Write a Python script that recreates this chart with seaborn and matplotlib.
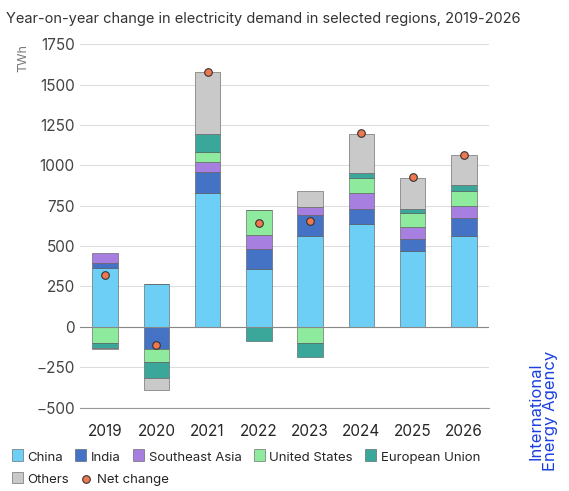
import numpy as np
import matplotlib
matplotlib.use("Agg")
import matplotlib.pyplot as plt
import seaborn as sns

years = ["2019","2020","2021","2022","2023","2024","2025","2026"]
china = [365, 265, 830, 360, 565, 635, 470, 560]
india = [30, -135, 130, 120, 125, 95, 75, 115]
sea = [60, 0, 60, 90, 50, 100, 70, 70]
us = [-100, -80, 60, 155, -100, 90, 90, 95]
eu = [-30, -100, 115, -90, -90, 35, 25, 35]
others = [-10, -75, 385, 0, 100, 240, 190, 190]
net = [320, -115, 1580, 640, 655, 1200, 925, 1065]

series = [("China", china, "#6dcff6"), ("India", india, "#4472c4"),
          ("Southeast Asia", sea, "#a77fe0"), ("United States", us, "#8eea9c"),
          ("European Union", eu, "#3aa79a"), ("Others", others, "#c9c9c9")]

sns.set_style("white")
plt.rcParams['font.family'] = ['Inter', 'DejaVu Sans']
fig, ax = plt.subplots(figsize=(5.69, 4.91), dpi=100)
fig.subplots_adjust(left=0.14, right=0.86, top=0.91, bottom=0.17)
x = np.arange(len(years))
pos = np.zeros(len(years)); neg = np.zeros(len(years))
for name, vals, col in series:
    v = np.array(vals, float)
    b = np.where(v >= 0, pos, neg)
    ax.bar(x, v, bottom=b, width=0.5, color=col, edgecolor="#555555", linewidth=0.4, label=name)
    pos += np.where(v >= 0, v, 0); neg += np.where(v < 0, v, 0)
sns.scatterplot(x=x, y=net, ax=ax, color="#f07850", edgecolor="#333333", s=30, linewidth=0.8, zorder=5, label="Net change")
h, l = ax.get_legend_handles_labels()
if ax.get_legend() is not None:
    ax.get_legend().remove()
ax.set_ylim(-500, 1750)
ax.set_yticks(range(-500, 1751, 250))
ax.set_xticks(x); ax.set_xticklabels(years)
ax.set_xlim(-0.5, 7.5)
ax.grid(axis="y", color="#dddddd", linewidth=0.8)
ax.axhline(0, color="#888888", linewidth=0.8)
for s in ["top", "right", "left"]:
    ax.spines[s].set_visible(False)
ax.spines["bottom"].set_color("#999999")
ax.tick_params(axis="x", length=8, color="#999999", labelsize=11)
ax.tick_params(axis="y", length=0, labelsize=11, labelcolor="#444444")
ax.set_axisbelow(True)
fig.text(0.03, 0.91, "TWh", rotation=90, fontsize=9, color="#777777", va="top")
fig.text(0.01, 0.975, "Year-on-year change in electricity demand in selected regions, 2019-2026",
         fontsize=10.5, color="#333333", va="top")
fig.text(0.955, 0.04, "International\nEnergy Agency", rotation=90, color="#1a3fe0",
         fontsize=12, ha="center", va="bottom", linespacing=0.9)
lab = {name: hd for hd, name in zip(h, l)}
kw = dict(frameon=False, fontsize=9.5, handlelength=0.8, columnspacing=0.9, handletextpad=0.4)
row1 = ["China", "India", "Southeast Asia", "United States", "European Union"]
row2 = ["Others", "Net change"]
leg1 = fig.legend([lab[n] for n in row1], row1, loc="upper left",
                  bbox_to_anchor=(0.0, 0.105), ncol=5, **kw)
leg2 = fig.legend([lab[n] for n in row2], row2, loc="upper left",
                  bbox_to_anchor=(0.0, 0.06), ncol=2, **kw)
for leg in (leg1, leg2):
    for hd in leg.legend_handles:
        try: hd.set_height(8); hd.set_width(8)
        except Exception: pass
fig.savefig("out.png", dpi=100)
